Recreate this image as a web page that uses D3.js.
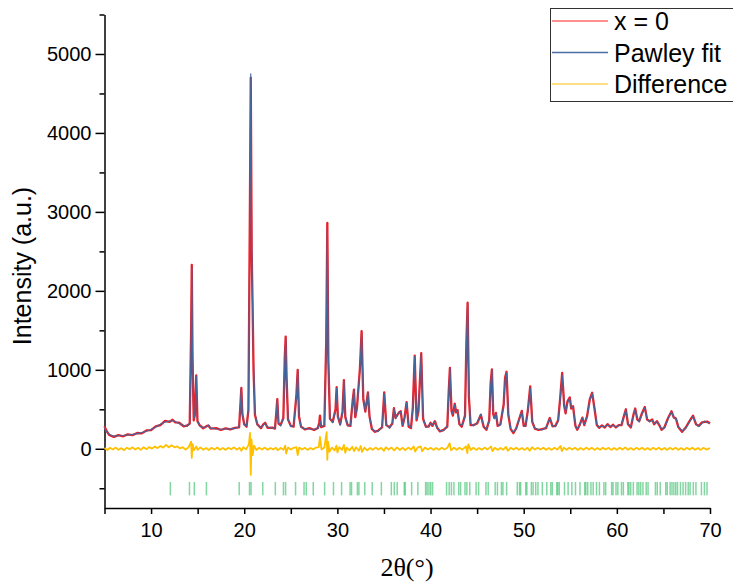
<!DOCTYPE html>
<html lang="en">
<head>
<meta charset="UTF-8">
<title>Pawley fit</title>
<script src="https://d3js.org/d3.v7.min.js"></script>
<style>
    body { margin: 0; background: #fff; }
    svg { display: block; font-family: "Liberation Sans", Arial, sans-serif; }
    .axis path, .axis line { stroke: #000; stroke-width: 1.5; }
    .axis text { font-size: 20px; fill: #000; }
    .obs { fill: none; stroke: #ee1c24; stroke-width: 2.3; stroke-linejoin: round; }
    .calc { fill: none; stroke: #41699f; stroke-width: 1.1; stroke-linejoin: round; }
    .diff { fill: none; stroke: #ffc000; stroke-width: 1.8; stroke-linejoin: round; }
    .refl { stroke: #2ebd62; stroke-opacity: 0.6; stroke-width: 1.5; }
</style>
</head>
<body>
<svg id="chart" width="733" height="586"></svg>
<script>
// 2theta grid of the profile, observed counts (x = 0) and Pawley calculated counts
const twoTheta = [5.0, 5.2, 5.5, 6.0, 6.5, 7.0, 7.5, 8.0, 8.5, 9.0, 9.5, 10.0, 10.5, 11.0, 11.5, 12.0, 12.3, 12.6, 13.0, 13.5, 13.9,
    14.15, 14.3, 14.37, 14.45, 14.58, 14.7, 14.85, 14.98, 15.2, 15.6, 16.0, 16.15, 16.4, 17.0, 17.5, 18.0, 18.5, 19.0,
    19.45, 19.6, 19.69, 19.8, 20.0, 20.25, 20.45, 20.6, 20.7, 20.8, 20.9, 21.0, 21.15, 21.4, 21.8, 22.05, 22.25, 22.5,
    23.0, 23.3, 23.45, 23.55, 23.68, 23.9, 24.2, 24.35, 24.45, 24.55, 24.7, 25.0, 25.3, 25.6, 25.74, 25.88, 26.1, 26.5,
    27.0, 27.5, 27.9, 28.05, 28.13, 28.25, 28.6, 28.8, 28.92, 29.03, 29.2, 29.5, 29.8, 29.92, 30.05, 30.3, 30.55, 30.7,
    30.85, 31.1, 31.4, 31.65, 31.78, 31.92, 32.1, 32.42, 32.6, 32.78, 33.0, 33.28, 33.45, 33.7, 34.0, 34.4, 34.8, 35.03,
    35.25, 35.6, 35.9, 36.07, 36.25, 36.45, 36.62, 36.8, 37.0, 37.2, 37.43, 37.65, 37.9, 38.1, 38.3, 38.5, 38.7, 39.0,
    39.2, 39.5, 39.8, 40.0, 40.2, 40.47, 40.7, 41.0, 41.4, 41.8, 41.95, 42.08, 42.25, 42.4, 42.6, 42.75, 42.9, 43.1,
    43.35, 43.7, 43.85, 43.98, 44.12, 44.3, 44.6, 45.0, 45.4, 45.7, 46.0, 46.3, 46.45, 46.59, 46.73, 46.85, 47.02, 47.2,
    47.5, 47.85, 48.0, 48.16, 48.35, 48.6, 48.9, 49.2, 49.55, 49.8, 50.0, 50.2, 50.45, 50.7, 50.92, 51.2, 51.6, 52.0,
    52.4, 52.8, 53.1, 53.4, 53.7, 53.9, 54.13, 54.35, 54.5, 54.7, 54.95, 55.1, 55.3, 55.55, 55.75, 56.0, 56.3, 56.5,
    56.8, 57.1, 57.35, 57.6, 57.85, 58.1, 58.4, 58.7, 59.0, 59.3, 59.6, 59.9, 60.2, 60.5, 60.75, 60.97, 61.2, 61.5,
    61.8, 61.97, 62.2, 62.4, 62.7, 63.0, 63.25, 63.5, 63.8, 64.0, 64.3, 64.55, 64.8, 65.1, 65.5, 65.87, 66.1, 66.35,
    66.6, 67.0, 67.4, 67.8, 68.18, 68.5, 68.8, 69.1, 69.4, 69.7, 70.0];

const observed = [285, 230, 175, 150, 172, 158, 182, 172, 200, 195, 232, 236, 285, 300, 352, 340, 368, 335, 330, 285, 295,
    320, 1500, 2330, 1150, 360, 430, 930, 350, 300, 260, 290, 295, 255, 262, 238, 258, 245, 265,
    272, 580, 770, 440, 310, 280, 490, 2900, 4700, 2500, 1800, 1000, 430, 310, 262, 308, 330, 265,
    268, 255, 470, 630, 320, 300, 390, 1150, 1420, 880, 370, 290, 280, 680, 1000, 410, 280, 245,
    262, 238, 262, 330, 420, 275, 290, 1350, 2860, 1100, 380, 340, 500, 780, 410, 310, 470, 870,
    400, 300, 290, 620, 750, 400, 520, 1020, 1490, 630, 470, 715, 410, 250, 215, 232, 270, 715,
    300, 272, 320, 515, 390, 430, 460, 475, 290, 390, 590, 280, 262, 520, 1180, 360, 470, 1210,
    380, 280, 282, 330, 290, 350, 270, 220, 240, 280, 720, 1025, 480, 420, 570, 460, 490, 310,
    280, 420, 1350, 1850, 650, 300, 300, 320, 430, 280, 240, 360, 830, 1005, 440, 390, 455, 290,
    310, 560, 900, 975, 430, 250, 200, 260, 390, 480, 290, 290, 490, 790, 340, 255, 238, 250,
    262, 390, 285, 290, 360, 620, 960, 540, 450, 600, 650, 510, 540, 290, 240, 300, 395, 300,
    410, 630, 710, 510, 300, 265, 295, 270, 312, 275, 305, 270, 300, 300, 410, 500, 310, 270,
    440, 510, 370, 350, 450, 530, 370, 350, 370, 310, 350, 300, 240, 270, 390, 475, 400, 380,
    275, 215, 270, 350, 420, 310, 290, 330, 340, 345, 320];

const pawleyFit = [270, 220, 185, 160, 165, 168, 175, 182, 192, 205, 222, 245, 275, 310, 338, 352, 355, 345, 320, 295, 285,
    330, 1400, 2300, 1200, 380, 420, 920, 360, 290, 270, 280, 300, 262, 250, 248, 250, 252, 258,
    280, 560, 770, 450, 300, 290, 500, 2800, 4750, 2600, 1760, 1100, 450, 300, 270, 300, 320, 275,
    260, 265, 450, 620, 330, 290, 380, 1100, 1400, 900, 380, 280, 290, 650, 990, 430, 270, 255,
    250, 248, 255, 300, 360, 280, 300, 1300, 2780, 1200, 400, 330, 480, 770, 430, 300, 450, 860,
    420, 290, 300, 600, 745, 420, 500, 1000, 1470, 650, 480, 710, 420, 260, 225, 220, 280, 700,
    310, 260, 330, 510, 380, 440, 455, 470, 300, 380, 585, 300, 270, 500, 1170, 380, 480, 1200,
    400, 270, 290, 320, 300, 345, 260, 230, 230, 290, 700, 1020, 500, 440, 560, 470, 480, 320,
    290, 400, 1300, 1840, 700, 320, 290, 330, 440, 290, 250, 350, 800, 1000, 460, 380, 450, 300,
    300, 550, 880, 960, 450, 260, 210, 250, 380, 470, 300, 280, 480, 770, 350, 260, 245, 240,
    270, 385, 290, 280, 350, 600, 930, 560, 460, 580, 640, 520, 530, 300, 250, 290, 390, 310,
    400, 620, 700, 520, 310, 275, 285, 280, 300, 285, 295, 280, 290, 310, 420, 490, 320, 280,
    430, 500, 380, 340, 440, 520, 380, 340, 360, 320, 340, 310, 250, 260, 380, 470, 390, 390,
    280, 225, 260, 340, 410, 320, 280, 320, 350, 330, 330];

// difference curve (observed - calculated)
const diffTheta = [5.0, 5.3, 5.6, 5.9, 6.2, 6.5, 6.8, 7.1, 7.4, 7.7, 8.0, 8.3, 8.6, 8.9, 9.2, 9.5, 9.8, 10.1, 10.4, 10.7,
    11.0, 11.3, 11.6, 11.9, 12.2, 12.5, 12.8, 13.1, 13.4, 13.7, 14.0, 14.3, 14.37, 14.45, 14.6, 14.85, 15.0, 15.3, 15.6,
    15.9, 16.2, 16.5, 16.8, 17.1, 17.4, 17.7, 18.0, 18.3, 18.6, 18.9, 19.2, 19.5, 19.7, 19.9, 20.2, 20.5, 20.62, 20.7,
    20.78, 20.9, 21.05, 21.3, 21.6, 21.9, 22.2, 22.5, 22.8, 23.1, 23.4, 23.6, 23.9, 24.2, 24.4, 24.5, 24.7, 25.0, 25.3,
    25.6, 25.74, 25.9, 26.2, 26.5, 26.8, 27.1, 27.4, 27.7, 28.0, 28.13, 28.3, 28.6, 28.85, 28.92, 29.0, 29.15, 29.4,
    29.7, 29.9, 30.0, 30.2, 30.5, 30.7, 30.85, 31.0, 31.3, 31.6, 31.8, 32.0, 32.3, 32.5, 32.65, 32.9, 33.2, 33.5, 33.8,
    34.1, 34.4, 34.7, 35.0, 35.2, 35.5, 35.8, 36.1, 36.4, 36.7, 37.0, 37.3, 37.6, 37.9, 38.2, 38.35, 38.6, 38.95, 39.1,
    39.4, 39.7, 40.0, 40.3, 40.6, 40.9, 41.2, 41.5, 41.8, 42.05, 42.2, 42.5, 42.8, 43.1, 43.4, 43.8, 43.95, 44.05, 44.3,
    44.6, 44.9, 45.2, 45.5, 45.8, 46.1, 46.5, 46.65, 46.9, 47.2, 47.5, 47.8, 48.1, 48.3, 48.6, 48.9, 49.2, 49.5, 49.8,
    50.1, 50.4, 50.65, 50.9, 51.2, 51.5, 51.8, 52.1, 52.4, 52.7, 53.0, 53.3, 53.6, 53.95, 54.1, 54.3, 54.6, 54.9, 55.2,
    55.5, 55.8, 56.1, 56.4, 56.7, 57.0, 57.3, 57.6, 57.9, 58.2, 58.5, 58.8, 59.1, 59.4, 59.7, 60.0, 60.3, 60.6, 60.9,
    61.2, 61.5, 61.8, 62.1, 62.4, 62.7, 63.0, 63.3, 63.6, 63.9, 64.2, 64.5, 64.8, 65.1, 65.4, 65.7, 66.0, 66.3, 66.6,
    66.9, 67.2, 67.5, 67.8, 68.1, 68.4, 68.7, 69.0, 69.3, 69.6, 70.0];

const difference = [10, -15, 12, -8, 15, -12, 8, -18, 14, -6, 18, -10, 12, -14, 20, -5, 22, 2, 28, 8,
    35, 15, 50, 20, 45, 18, 30, 5, 20, -10, 15, 90, -115, 60, -20, 30, -15, 18, -12,
    10, -15, 12, -8, 16, -12, 10, -14, 12, -6, 18, -10, 14, -25, 20, -8, 60, 200, -330,
    120, -80, 40, -15, 12, -10, 15, -12, 10, -8, 14, -20, 10, -12, 40, -60, 15, -10, 12,
    20, -80, 15, -10, 12, -14, 10, -8, 15, 20, 150, -10, 15, 210, -140, 90, -40, 15,
    -20, 40, -45, 20, -15, 50, -50, 15, -20, 25, -30, 20, -25, 35, -40, 15, -20, 10, -12,
    15, -10, 12, -25, 20, -10, 15, -20, 18, -15, 12, -18, 15, -10, 30, -35, 15, 30, -30,
    15, -10, 12, -14, 10, -12, 14, -8, 12, 70, -20, 15, -12, 14, -10, 30, -55, 55, -15,
    12, -14, 10, -12, 15, -10, 30, -30, 12, -14, 10, -12, 25, -25, 12, -10, 14, -12, 10,
    -14, 12, -25, 20, -10, 12, -8, 14, -12, 10, -14, 12, -10, 35, -30, 15, -12, 14, -10,
    12, -14, 10, -12, 15, -10, 12, -14, 10, -12, 14, -8, 12, -14, 10, -12, 14, -10, 18,
    -12, 10, -14, 12, -10, 14, -12, 10, -14, 12, -10, 14, -12, 10, -14, 12, -10, 14, -12,
    10, -14, 12, -10, 14, -12, 10, -14, 12, -10, 8];

// Pawley reflection positions (2theta)
const reflections = [12.07, 14.12, 14.64, 15.94, 19.46, 20.57, 20.73, 21.99, 23.34, 24.21, 24.44, 25.51, 26.42, 26.66,
    27.41, 28.63, 29.58, 30.45, 31.36, 31.52, 32.15, 32.31, 32.94, 33.74, 34.72, 35.79, 36.11, 36.42, 37.18, 37.29,
    37.97, 38.64, 39.47, 39.63, 39.83, 40.02, 40.22, 41.72, 42.0, 42.24, 42.51, 43.03, 43.23, 43.7, 43.9, 44.21,
    44.89, 45.16, 45.95, 46.19, 46.94, 47.18, 47.61, 47.77, 48.17, 49.31, 49.55, 49.67, 50.22, 50.34, 50.82, 51.01,
    51.29, 51.53, 52.0, 52.48, 52.91, 53.07, 53.55, 53.66, 53.82, 54.38, 54.77, 55.17, 55.56, 56.04, 56.55, 56.67,
    56.87, 57.22, 57.46, 57.82, 58.13, 58.61, 58.8, 59.44, 59.59, 59.91, 60.11, 60.5, 60.7, 61.18, 61.3, 61.49,
    61.77, 62.17, 62.36, 62.56, 62.8, 63.15, 63.35, 64.14, 64.34, 64.66, 65.25, 65.41, 65.72, 65.92, 66.12, 66.32,
    66.51, 66.83, 67.11, 67.38, 67.66, 67.86, 68.21, 68.49, 69.08, 69.4, 69.68];

const yMajorTicks = [0, 1000, 2000, 3000, 4000, 5000];
const yMinorTicks = [-500, 500, 1500, 2500, 3500, 4500, 5500];
const xMajorTicks = [10, 20, 30, 40, 50, 60, 70];
const xMinorTicks = [5, 15, 25, 35, 45, 55, 65];

const legendItems = [
    { label: "x = 0", color: "#ff6b6b" },
    { label: "Pawley fit", color: "#4a6ea3" },
    { label: "Difference", color: "#ffd45a" }
];

const svg = d3.select("#chart");
const plotLeft = 104.5, plotRight = 710, plotTop = 14.5, plotBottom = 508;

const x = d3.scaleLinear().domain([5, 70]).range([plotLeft, plotRight]);
const y = d3.scaleLinear().domain([-750, 5500]).range([plotBottom, plotTop]);

// axes
svg.append("g").attr("class", "axis")
    .attr("transform", `translate(0,${plotBottom})`)
    .call(d3.axisBottom(x).tickValues(xMinorTicks).tickFormat("").tickSize(6).tickSizeOuter(0))
    .select(".domain").remove();
svg.append("g").attr("class", "axis")
    .attr("transform", `translate(0,${plotBottom})`)
    .call(d3.axisBottom(x).tickValues(xMajorTicks).tickSize(6).tickSizeOuter(0).tickPadding(9));

svg.append("g").attr("class", "axis")
    .attr("transform", `translate(${plotLeft},0)`)
    .call(d3.axisLeft(y).tickValues(yMinorTicks).tickFormat("").tickSize(5).tickSizeOuter(0))
    .select(".domain").remove();
svg.append("g").attr("class", "axis")
    .attr("transform", `translate(${plotLeft},0)`)
    .call(d3.axisLeft(y).tickValues(yMajorTicks).tickFormat(d3.format("d"))
        .tickSize(9).tickSizeOuter(0).tickPadding(4));

// profiles
const line = d3.line().x(d => x(d[0])).y(d => y(d[1]));

svg.append("path").attr("class", "diff")
    .attr("d", line(diffTheta.map((t, i) => [t, difference[i]])));
svg.append("path").attr("class", "obs")
    .attr("d", line(twoTheta.map((t, i) => [t, observed[i]])));
svg.append("path").attr("class", "calc")
    .attr("d", line(twoTheta.map((t, i) => [t, pawleyFit[i]])));

// reflection markers
svg.append("g").selectAll("line")
    .data(reflections)
    .join("line")
    .attr("class", "refl")
    .attr("x1", d => x(d)).attr("x2", d => x(d))
    .attr("y1", y(-420)).attr("y2", y(-590));

// axis titles
svg.append("text")
    .attr("transform", "translate(31,266) rotate(-90)")
    .attr("text-anchor", "middle")
    .style("font-size", "25px")
    .text("Intensity (a.u.)");

svg.append("text")
    .attr("x", 407).attr("y", 576)
    .attr("text-anchor", "middle")
    .style("font-family", "'Liberation Serif', 'Times New Roman', serif")
    .style("font-size", "26px")
    .text("2θ(°)");

// legend
const legend = svg.append("g");
legend.append("rect")
    .attr("x", 550.5).attr("y", 8.5).attr("width", 200).attr("height", 93)
    .attr("fill", "#fff").attr("stroke", "#333").attr("stroke-width", 1);
legendItems.forEach((item, i) => {
    const ly = 21 + i * 31.5;
    legend.append("line")
        .attr("x1", 552).attr("x2", 608).attr("y1", ly).attr("y2", ly)
        .attr("stroke", item.color).attr("stroke-width", 1.5);
    legend.append("text")
        .attr("x", 614).attr("y", ly).attr("dy", "0.36em")
        .style("font-size", "25px")
        .text(item.label);
});
</script>
</body>
</html>
